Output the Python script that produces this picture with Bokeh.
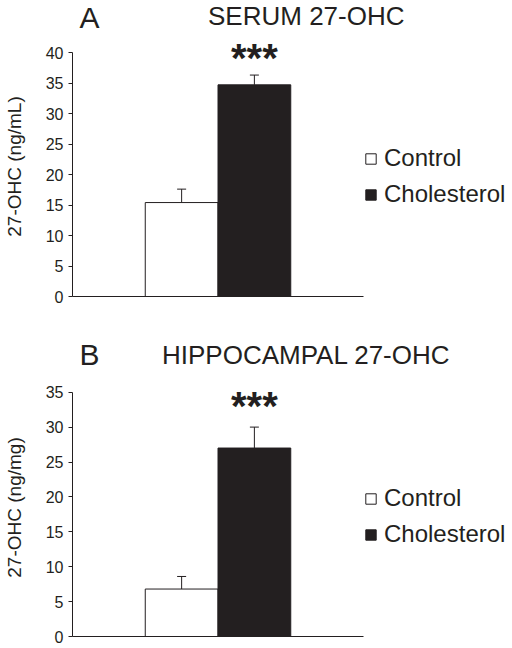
from bokeh.plotting import figure
from bokeh.layouts import column
from bokeh.models import (ColumnDataSource, Range1d, FixedTicker, Whisker, TeeHead,
                          Label, Legend, LegendItem)
from bokeh.embed import file_html
from bokeh.resources import INLINE

# ---- data -------------------------------------------------------------
groups = ["Control", "Cholesterol"]
serum_mean = [15.4, 34.7]
serum_sem = [2.2, 1.6]
hippo_mean = [6.8, 27.0]
hippo_sem = [1.8, 3.0]
serum_ticks = [0, 5, 10, 15, 20, 25, 30, 35, 40]
hippo_ticks = [0, 5, 10, 15, 20, 25, 30, 35]
panel_letters = ["A", "B"]
panel_titles = ["SERUM 27-OHC", "HIPPOCAMPAL 27-OHC"]
y_labels = ["27-OHC (ng/mL)", "27-OHC (ng/mg)"]
significance = "***"
bar_fills = ["white", "#231f20"]

INK = "#231f20"
FONT = "Liberation Sans"
W = 512
X_UNITS_SHOWN = 4.0
FRAME_LEFT = 72
AXIS_W = 291


def header(letter, title, height, base_letter, base_title):
    h = figure(width=W, height=height, output_backend="svg", toolbar_location=None,
               title=None, x_range=Range1d(0, W), y_range=Range1d(height, 0),
               min_border=0, x_axis_location=None, y_axis_location=None)
    h.outline_line_color = None
    h.grid.visible = False
    h.add_layout(Label(x=8, y=base_letter, text=letter, text_align="left",
                       text_baseline="alphabetic", text_font=FONT,
                       text_font_size="30px", text_color=INK))
    h.add_layout(Label(x=272, y=base_title, text=title, text_align="center",
                       text_baseline="alphabetic", text_font=FONT,
                       text_font_size="26px", text_color=INK))
    return h


def panel(ylabel, means, sems, ticks, height, y_top, border_bottom, star_y):
    ymax = ticks[-1]
    frame_w = W - FRAME_LEFT
    p = figure(width=W, height=height, output_backend="svg", toolbar_location=None,
               title=None,
               x_range=Range1d(0, frame_w * X_UNITS_SHOWN / AXIS_W),
               y_range=Range1d(0, y_top),
               min_border_left=FRAME_LEFT, min_border_right=0,
               min_border_top=0, min_border_bottom=border_bottom)
    p.outline_line_color = None
    p.grid.visible = False

    xs = [i + 1.5 for i in range(len(groups))]
    src = ColumnDataSource(dict(x=xs, top=means,
                                upper=[m + s for m, s in zip(means, sems)],
                                fill=bar_fills, label=groups))
    r = p.vbar(x="x", top="top", width=1.0, source=src, fill_color="fill",
               line_color=INK, line_width=1)
    w = Whisker(source=src, base="x", lower="top", upper="upper", dimension="height",
                line_color=INK, line_width=1,
                upper_head=TeeHead(size=9, line_color=INK, line_width=1),
                lower_head=None)
    p.add_layout(w)

    ya = p.yaxis[0]
    ya.ticker = FixedTicker(ticks=ticks)
    ya.bounds = (0, ymax)
    ya.axis_line_color = INK
    ya.major_tick_line_color = INK
    ya.major_tick_out = 4
    ya.major_tick_in = 0
    ya.minor_tick_line_color = None
    ya.major_label_standoff = 5
    ya.major_label_text_font = FONT
    ya.major_label_text_font_size = "16px"
    ya.major_label_text_color = INK
    ya.axis_label = ylabel
    ya.axis_label_text_font = FONT
    ya.axis_label_text_font_size = "19px"
    ya.axis_label_text_font_style = "normal"
    ya.axis_label_text_color = INK
    ya.axis_label_standoff = 18

    xa = p.xaxis[0]
    xa.ticker = FixedTicker(ticks=[])
    xa.bounds = (0, X_UNITS_SHOWN)
    xa.axis_line_color = INK
    xa.major_tick_line_color = None
    xa.minor_tick_line_color = None
    xa.major_tick_out = 0
    xa.major_label_standoff = 0

    legend = Legend(items=[LegendItem(label=g, renderers=[r], index=i)
                           for i, g in enumerate(groups)],
                    location=(292, 88), padding=0, margin=0, spacing=8,
                    glyph_width=13, glyph_height=13, label_standoff=7,
                    label_text_font=FONT, label_text_font_size="24px",
                    label_text_color=INK, border_line_color=None,
                    background_fill_alpha=0)
    p.add_layout(legend)

    p.add_layout(Label(x=2.5, y=star_y, text=significance, text_align="center",
                       text_baseline="alphabetic", text_font=FONT,
                       text_font_size="40px", text_font_style="bold",
                       text_color=INK))
    return p


ha = header(panel_letters[0], panel_titles[0], 36, 17.3, 15.6)
pa = panel(y_labels[0], serum_mean, serum_sem, serum_ticks, 280, 260 / 6.1, 20, 39.15)
hb = header(panel_letters[1], panel_titles[1], 62, 38.2, 38.4)
pb = panel(y_labels[1], hippo_mean, hippo_sem, hippo_ticks, 270, 258 / 6.98, 12, 33.08)

layout = column(ha, pa, hb, pb, spacing=0)
open("out.html", "w").write(file_html(layout, INLINE))
